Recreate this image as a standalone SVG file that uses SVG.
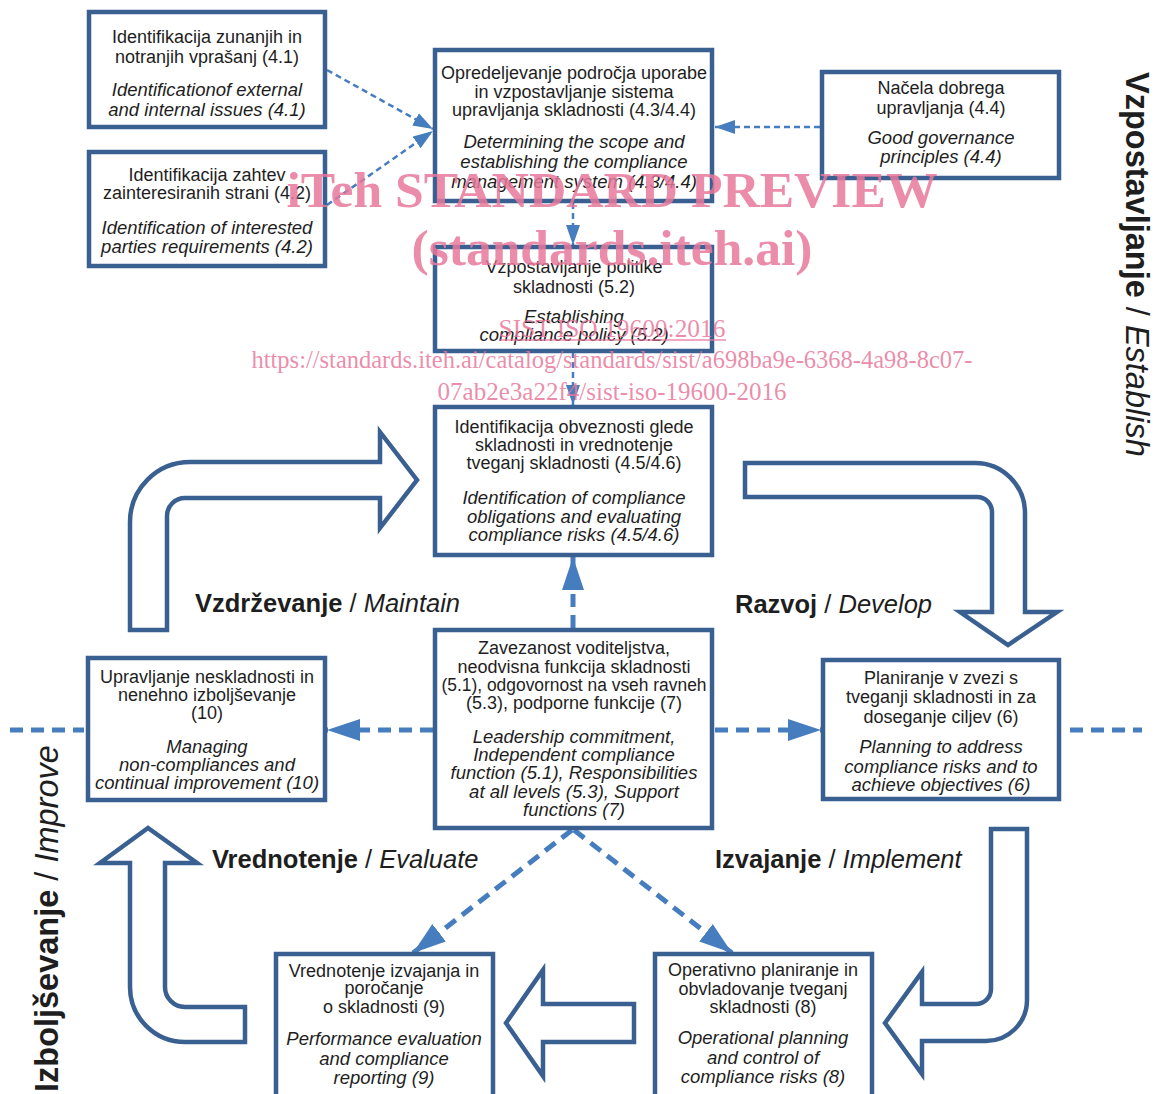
<svg xmlns="http://www.w3.org/2000/svg" width="1157" height="1094" viewBox="0 0 1157 1094">
<style>
.box{fill:#fff;stroke:#3a6091;stroke-width:4.5}
.big{fill:#fff;stroke:#3a6091;stroke-width:4.5;stroke-linejoin:miter}
.dt{fill:none;stroke:#467dbe;stroke-width:2.5;stroke-dasharray:6 4}
.dk{fill:none;stroke:#467dbe;stroke-width:5;stroke-dasharray:13 8}
text{font-family:"Liberation Sans",Arial,sans-serif;fill:#1e1e1e}
.t{font-size:18px;text-anchor:middle}
.i{font-size:18.5px;font-style:italic;text-anchor:middle}
.lb{font-size:25.5px}
.vt{font-size:32.5px}
.b{font-weight:bold}
.it{font-style:italic}
.wm{font-family:"Liberation Serif","Times New Roman",serif;fill:#e8789b;fill-opacity:0.85;text-anchor:middle}
</style>
<defs>
<marker id="as" markerUnits="userSpaceOnUse" markerWidth="20" markerHeight="14" refX="20" refY="7" orient="auto"><path d="M0,0 L20,7 L0,14 z" fill="#467dbe"/></marker>
<marker id="al" markerUnits="userSpaceOnUse" markerWidth="33" markerHeight="22" refX="33" refY="11" orient="auto"><path d="M0,0 L33,11 L0,22 z" fill="#467dbe"/></marker>
</defs>
<rect width="1157" height="1094" fill="#fff"/>

<g id="big-arrows">
<path class="big" d="M130,630 L130,522 A60,60 0 0 1 190,462 L380,462 L380,432 L417,480 L380,528 L380,498 L185,498 A18,18 0 0 0 167,516 L167,630 Z"/>
<path class="big" d="M745,463 L975,463 A50,50 0 0 1 1025,513 L1025,612 L1057,612 L1008,645 L960,612 L992,612 L992,512 A15,15 0 0 0 977,497 L745,497 Z"/>
<path class="big" d="M991,829 L1027,829 L1027,1000 A41,41 0 0 1 986,1041 L922,1041 L922,1074 L885,1023 L922,972 L922,1004 L976,1004 A15,15 0 0 0 991,989 Z"/>
<path class="big" d="M634,1004 L634,1042 L543,1042 L543,1076 L506,1023 L543,970 L543,1004 Z"/>
<path class="big" d="M245,1042 L185,1042 A55,55 0 0 1 130,987 L130,863 L100,863 L148,828 L197,863 L165,863 L165,987 A20,20 0 0 0 185,1007 L245,1007 Z"/>
</g>

<g id="connectors">
<line class="dt" x1="327" y1="70" x2="433" y2="129" marker-end="url(#as)"/>
<line class="dt" x1="327" y1="205" x2="433" y2="131" marker-end="url(#as)"/>
<line class="dt" x1="820" y1="127" x2="715" y2="127" marker-end="url(#as)"/>
<line class="dt" x1="573" y1="203" x2="573" y2="245" marker-end="url(#as)"/>
<line class="dt" x1="573" y1="352" x2="573" y2="405" marker-end="url(#as)"/>
<line class="dk" x1="573" y1="628" x2="573" y2="557" marker-end="url(#al)"/>
<line class="dk" x1="433" y1="730" x2="327" y2="730" marker-end="url(#al)"/>
<line class="dk" x1="715" y1="730" x2="821" y2="730" marker-end="url(#al)"/>
<line class="dk" x1="572" y1="830" x2="413" y2="953" marker-end="url(#al)"/>
<line class="dk" x1="574" y1="830" x2="732" y2="953" marker-end="url(#al)"/>
<line class="dk" x1="10" y1="730" x2="84" y2="730"/>
<line class="dk" x1="1070" y1="730" x2="1142" y2="730"/>
</g>

<g id="n41">
<rect class="box" x="89" y="12" width="236" height="115"/>
<text class="t" x="207" y="43">Identifikacija zunanjih in</text>
<text class="t" x="207" y="63">notranjih vprašanj (4.1)</text>
<text class="i" x="207" y="96">Identificationof external</text>
<text class="i" x="207" y="116">and internal issues (4.1)</text>
</g>
<g id="n42">
<rect class="box" x="89" y="152" width="236" height="114"/>
<text class="t" x="207" y="181">Identifikacija zahtev</text>
<text class="t" x="207" y="199">zainteresiranih strani (4.2)</text>
<text class="i" x="207" y="234">Identification of interested</text>
<text class="i" x="207" y="253">parties  requirements (4.2)</text>
</g>
<g id="n43">
<rect class="box" x="435" y="50" width="277" height="151"/>
<text class="t" x="574" y="79">Opredeljevanje področja uporabe</text>
<text class="t" x="574" y="98">in vzpostavljanje sistema</text>
<text class="t" x="574" y="116">upravljanja skladnosti (4.3/4.4)</text>
<text class="i" x="574" y="148">Determining the scope and</text>
<text class="i" x="574" y="168">establishing the compliance</text>
<text class="i" x="574" y="188">management system  (4.3/4.4)</text>
</g>
<g id="n44">
<rect class="box" x="822" y="72" width="237" height="106"/>
<text class="t" x="941" y="94">Načela dobrega</text>
<text class="t" x="941" y="114">upravljanja (4.4)</text>
<text class="i" x="941" y="144">Good governance</text>
<text class="i" x="941" y="163">principles (4.4)</text>
</g>
<g id="n52">
<rect class="box" x="435" y="247" width="277" height="104"/>
<text class="t" x="574" y="273">Vzpostavljanje politike</text>
<text class="t" x="574" y="293">skladnosti (5.2)</text>
<text class="i" x="574" y="323">Establishing</text>
<text class="i" x="574" y="341">compliance policy (5.2)</text>
</g>
<g id="n45">
<rect class="box" x="435" y="407" width="277" height="148"/>
<text class="t" x="574" y="433">Identifikacija obveznosti glede</text>
<text class="t" x="574" y="451">skladnosti in vrednotenje</text>
<text class="t" x="574" y="469">tveganj skladnosti (4.5/4.6)</text>
<text class="i" x="574" y="504">Identification of compliance</text>
<text class="i" x="574" y="523">obligations  and evaluating</text>
<text class="i" x="574" y="541">compliance risks (4.5/4.6)</text>
</g>
<g id="n51">
<rect class="box" x="435" y="630" width="277" height="198"/>
<text class="t" x="574" y="654">Zavezanost voditeljstva,</text>
<text class="t" x="574" y="673">neodvisna funkcija skladnosti</text>
<text class="t" x="574" y="691" textLength="265" lengthAdjust="spacingAndGlyphs">(5.1), odgovornost na vseh ravneh</text>
<text class="t" x="574" y="709">(5.3), podporne funkcije (7)</text>
<text class="i" x="574" y="743">Leadership commitment,</text>
<text class="i" x="574" y="761">Independent compliance</text>
<text class="i" x="574" y="779">function (5.1), Responsibilities</text>
<text class="i" x="574" y="798">at all levels (5.3), Support</text>
<text class="i" x="574" y="816">functions (7)</text>
</g>
<g id="n10">
<rect class="box" x="88" y="658" width="237" height="142"/>
<text class="t" x="207" y="683">Upravljanje neskladnosti in</text>
<text class="t" x="207" y="701">nenehno izboljševanje</text>
<text class="t" x="207" y="719">(10)</text>
<text class="i" x="207" y="753">Managing</text>
<text class="i" x="207" y="771">non-compliances and</text>
<text class="i" x="207" y="789">continual improvement (10)</text>
</g>
<g id="n6">
<rect class="box" x="823" y="660" width="236" height="139"/>
<text class="t" x="941" y="684">Planiranje v zvezi s</text>
<text class="t" x="941" y="703">tveganji skladnosti in za</text>
<text class="t" x="941" y="723">doseganje ciljev (6)</text>
<text class="i" x="941" y="753">Planning to address</text>
<text class="i" x="941" y="773">compliance risks and to</text>
<text class="i" x="941" y="791">achieve objectives (6)</text>
</g>
<g id="n9">
<rect class="box" x="276" y="954" width="217" height="150"/>
<text class="t" x="384" y="977">Vrednotenje izvajanja in</text>
<text class="t" x="384" y="994">poročanje</text>
<text class="t" x="384" y="1013">o skladnosti (9)</text>
<text class="i" x="384" y="1045">Performance evaluation</text>
<text class="i" x="384" y="1065">and  compliance</text>
<text class="i" x="384" y="1084">reporting (9)</text>
</g>
<g id="n8">
<rect class="box" x="655" y="954" width="217" height="150"/>
<text class="t" x="763" y="976">Operativno planiranje in</text>
<text class="t" x="763" y="995">obvladovanje tveganj</text>
<text class="t" x="763" y="1013">skladnosti (8)</text>
<text class="i" x="763" y="1044">Operational planning</text>
<text class="i" x="763" y="1064">and control of</text>
<text class="i" x="763" y="1083">compliance risks (8)</text>
</g>

<g id="labels">
<text class="lb" x="195" y="612"><tspan class="b">Vzdrževanje</tspan> / <tspan class="it">Maintain</tspan></text>
<text class="lb" x="735" y="613"><tspan class="b">Razvoj</tspan> / <tspan class="it">Develop</tspan></text>
<text class="lb" x="212" y="868"><tspan class="b">Vrednotenje</tspan> / <tspan class="it">Evaluate</tspan></text>
<text class="lb" x="715" y="868"><tspan class="b">Izvajanje</tspan> / <tspan class="it">Implement</tspan></text>
<text class="vt" transform="translate(1126,72) rotate(90)"><tspan class="b">Vzpostavljanje</tspan> / <tspan class="it">Establish</tspan></text>
<text class="vt" transform="translate(58,1092) rotate(-90)"><tspan class="b">Izboljševanje</tspan> / <tspan class="it">Improve</tspan></text>
</g>

<g id="watermark">
<text class="wm" x="612" y="207" font-size="51" font-weight="bold" textLength="651" lengthAdjust="spacingAndGlyphs">iTeh STANDARD PREVIEW</text>
<text class="wm" x="612" y="265" font-size="51" font-weight="bold" textLength="401" lengthAdjust="spacingAndGlyphs">(standards.iteh.ai)</text>
<text class="wm" x="612" y="337" font-size="25" textLength="227" lengthAdjust="spacingAndGlyphs">SIST ISO 19600:2016</text>
<line x1="499" y1="340" x2="726" y2="340" stroke="#e8789b" stroke-opacity="0.85" stroke-width="1.5"/>
<text class="wm" x="612" y="368" font-size="25" textLength="721" lengthAdjust="spacingAndGlyphs">https://standards.iteh.ai/catalog/standards/sist/a698ba9e-6368-4a98-8c07-</text>
<text class="wm" x="612" y="400" font-size="25" textLength="349" lengthAdjust="spacingAndGlyphs">07ab2e3a22f4/sist-iso-19600-2016</text>
</g>
</svg>
